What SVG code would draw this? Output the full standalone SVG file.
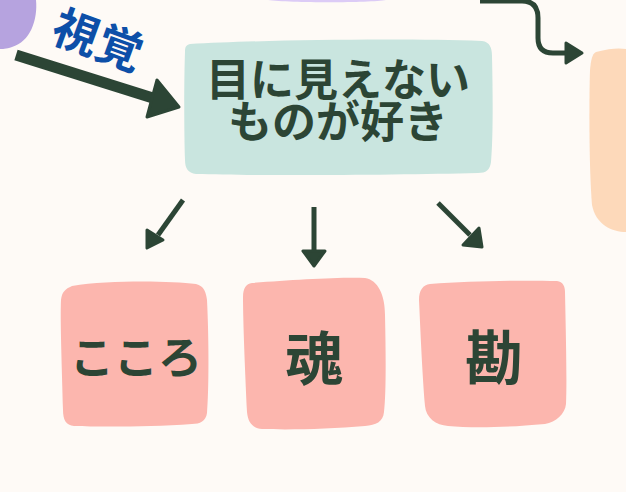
<svg xmlns="http://www.w3.org/2000/svg" width="626" height="492" viewBox="0 0 626 492">
<style>
.t{font-family:"Noto Sans CJK JP","Noto Sans",sans-serif;font-weight:700;fill:#2c4535;text-anchor:middle}
.ln{stroke:#2c4535;fill:none;stroke-linecap:butt}
.hd{fill:#2c4535;stroke:#2c4535;stroke-width:3;stroke-linejoin:round}
.pk{fill:#fcb6ae}
</style>
<rect width="626" height="492" fill="#fefaf6"/>
<g id="deco-purple-left"><path d="M0 0 H36 C38 20 30 42 12 47 C6 49 2 49 0 49 Z" fill="#b6a3df"/></g>
<g id="deco-purple-top"><path d="M268 0 H386 C370 3 290 3 268 0 Z" fill="#dccbf6"/></g>
<g id="deco-peach"><path d="M596 52 C610 48 620 48 626 49 V232 C612 232 596 225 592 205 C589 170 589 100 590 70 C591 60 592 54 596 52 Z" fill="#fdd9ba"/></g>
<g id="node-main">
<path d="M190 44 C260 40 400 38 482 41 C490 42 492 48 492 56 C493 100 493 140 491 162 C490 170 486 173 478 173 C400 175 260 176 196 174 C188 173 185 168 185 160 C184 130 184 80 185 52 C185 47 186 45 190 44 Z" fill="#c9e5df"/>
<text class="t" x="338" y="96" font-size="44">目に見えない</text>
<text class="t" x="338" y="138" font-size="44">ものが好き</text>
</g>
<g id="label-visual"><text x="98" y="57" font-family="Noto Sans CJK JP,sans-serif" font-weight="700" font-size="46" fill="#0d4fa8" text-anchor="middle" transform="rotate(20 98 40)">視覚</text></g>
<g id="node-kokoro">
<path d="M72 286 C110 280 170 281 196 284 C204 286 206 292 207 300 C209 340 209 390 207 413 C206 421 200 424 192 424 C150 427 100 427 74 426 C66 425 63 420 63 410 C62 370 60 320 61 300 C62 292 65 289 72 286 Z" class="pk"/>
<text class="t" x="136" y="374" font-size="44">こころ</text>
</g>
<g id="node-tamashii">
<path d="M252 283 C290 280 340 277 365 278 C378 280 385 295 385 315 C386 360 386 395 384 412 C383 422 376 425 365 426 C330 429 290 430 262 429 C252 428 248 422 247 412 C245 370 243 320 243 297 C243 288 246 284 252 283 Z" class="pk"/>
<text class="t" x="314" y="380" font-size="58">魂</text>
</g>
<g id="node-kan">
<path d="M430 284 C470 281 520 280 557 281 C563 282 565 286 565 292 C566 340 567 380 566 404 C565 414 556 422 545 424 C500 428 470 428 448 426 C436 425 426 418 425 406 C422 370 420 320 419 300 C419 290 423 285 430 284 Z" class="pk"/>
<text class="t" x="494" y="379" font-size="58">勘</text>
</g>
<g id="connectors">
<line class="ln" x1="16" y1="55" x2="156" y2="99" stroke-width="11"/>
<polygon class="hd" points="179,107 157,80 147,117"/>
<path class="ln" d="M480 1 H522 Q538 1 538 18 V38 Q538 53 553 53 H566" stroke-width="5"/>
<polygon class="hd" points="582,53 566,43 566,63"/>
<line class="ln" x1="183" y1="200" x2="158" y2="235" stroke-width="5"/>
<polygon class="hd" points="147,248 147,230 163,240"/>
<line class="ln" x1="314" y1="207" x2="314" y2="252" stroke-width="5"/>
<polygon class="hd" points="314,266 303,251 325,251"/>
<line class="ln" x1="438" y1="203" x2="470" y2="235" stroke-width="5"/>
<polygon class="hd" points="482,247 463,245 479,228"/>
</g>
</svg>
